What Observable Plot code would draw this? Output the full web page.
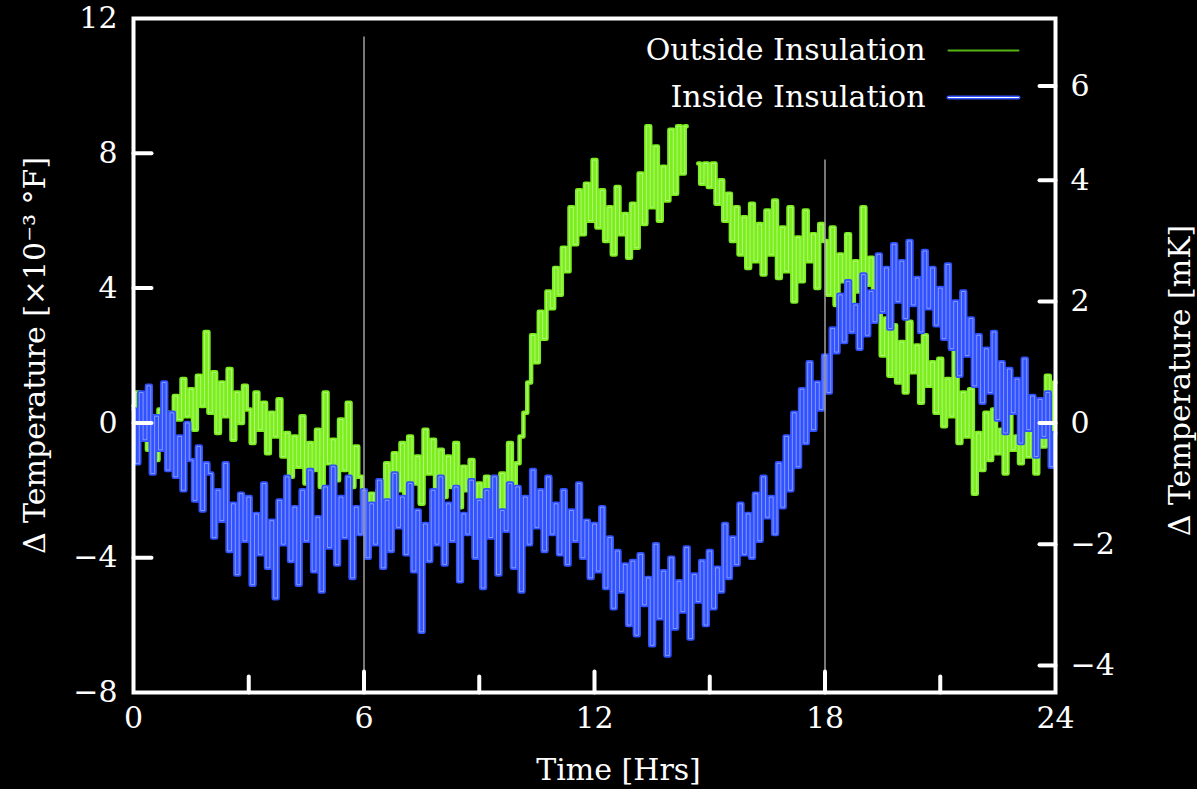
<!DOCTYPE html>
<html><head><meta charset="utf-8">
<script src="https://cdn.jsdelivr.net/npm/d3@7"></script>
<script src="https://cdn.jsdelivr.net/npm/@observablehq/plot@0.6"></script>
<style>html,body{margin:0;padding:0;background:#000;}</style>
</head><body><div id="chart"></div>
<script>
// Outside insulation, ΔT [×10^-3 °F], sampled every 0.1 h from 0 to 24 h
const outside = [
  0.5, 0.9, -0.3, 0.6, -0.8, 0.2, -1.1, 0.4, -0.6, 0.3,
  -0.4, 0.8, 0.1, 1.3, 0.2, 1.0, -0.2, 1.4, 0.5, 2.7,
  0.3, 1.5, -0.3, 1.2, 0.2, 1.6, -0.5, 0.9, 0.0, 1.1,
  0.4, -0.6, 0.9, -0.2, 0.6, -0.9, 0.3, -0.4, 0.7, -1.0,
  -0.3, -1.6, -0.4, -1.3, 0.2, -1.8, -0.6, -1.4, -0.2, -1.9,
  0.9, -1.2, -0.5, -1.7, 0.1, -1.4, 0.6, -1.9, -0.7, -1.6,
  -2.3, -3.0, -2.1, -3.4, -2.0, -2.8, -1.2, -2.4, -0.9, -2.0,
  -0.6, -2.2, -0.4, -1.8, -1.0, -2.4, -0.2, -1.5, -0.5, -2.1,
  -0.8, -2.2, -1.0, -1.9, -0.6, -2.5, -1.3, -2.0, -1.1, -2.6,
  -1.8, -2.9, -1.6, -3.1, -2.0, -2.7, -1.5, -2.9, -0.6, -2.2,
  -1.2, -0.4, 0.3, 1.2, 2.6, 1.8, 3.3, 2.5, 3.9, 3.4,
  4.6, 3.8, 5.2, 4.5, 6.4, 5.3, 6.9, 5.6, 7.1, 6.0,
  7.8, 5.8, 6.9, 5.4, 6.4, 5.0, 7.0, 5.6, 6.2, 4.9,
  6.5, 5.2, 7.4, 5.9, 8.8, 6.4, 8.2, 6.0, 7.6, 6.6,
  8.7, 6.8, 8.8, 7.4, 8.8, null, null, 7.7, 7.1, 7.7,
  7.0, 7.7, 6.5, 7.2, 6.0, 6.8, 5.4, 6.4, 5.0, 6.1,
  4.6, 6.5, 4.8, 5.9, 4.4, 6.3, 5.0, 6.6, 4.3, 5.8,
  4.5, 6.4, 3.6, 5.5, 4.2, 6.3, 4.8, 5.6, 4.0, 5.9,
  5.4, 3.8, 5.8, 3.5, 5.0, 4.2, 5.6, 3.4, 4.8, 3.9,
  6.4, 4.1, 4.9, 3.2, 3.8, 2.0, 3.1, 1.4, 2.9, 1.2,
  2.4, 0.9, 3.0, 1.5, 2.3, 0.6, 2.6, 1.1, 1.8, 0.3,
  1.9, -0.1, 1.3, 0.2, 2.2, -0.6, 0.9, -0.4, 1.0, -2.1,
  -0.3, -1.4, 0.3, -1.1, 0.4, -0.9, -0.2, -1.5, 0.6, -0.8,
  -0.4, -1.2, 0.2, -1.0, -0.3, -1.5, 0.5, -0.7, 1.4, -0.4,
  1.2
];
// Inside insulation, ΔT [×10^-3 °F], sampled every 0.1 h from 0 to 24 h
const inside = [
  0.4, -1.2, 0.9, -0.5, 1.1, -1.5, 0.2, -0.8, 1.2, -1.4,
  0.3, -1.6, -0.4, -2.0, 0.0, -1.1, -2.3, -0.7, -2.6, -1.2,
  -1.5, -3.4, -2.0, -2.9, -1.2, -3.8, -2.4, -4.5, -2.1, -3.5,
  -2.2, -4.8, -2.7, -3.9, -1.8, -4.3, -2.9, -5.2, -2.3, -3.6,
  -1.6, -4.1, -2.5, -4.8, -2.0, -3.5, -1.4, -4.4, -2.8, -5.0,
  -1.9, -3.7, -1.3, -4.2, -2.2, -3.4, -1.6, -4.6, -2.5, -3.3,
  -2.0, -4.0, -2.4, -3.6, -1.7, -4.3, -2.3, -3.8, -1.5, -3.1,
  -2.2, -3.9, -1.8, -4.4, -2.6, -6.2, -3.0, -4.1, -2.0, -3.6,
  -1.6, -4.2, -2.4, -3.5, -1.9, -4.7, -2.7, -3.3, -1.7, -4.0,
  -2.3, -4.9, -2.0, -3.4, -1.6, -4.5, -2.6, -3.2, -1.8, -4.3,
  -1.9, -5.0, -2.2, -3.6, -1.4, -3.1, -2.0, -3.8, -1.6, -3.3,
  -2.4, -3.9, -2.0, -4.2, -2.6, -3.5, -1.8, -4.0, -2.9, -4.6,
  -3.0, -4.4, -2.5, -4.9, -3.4, -5.5, -3.8, -5.0, -4.2, -6.0,
  -4.1, -6.3, -3.9, -5.4, -4.6, -6.6, -3.6, -5.8, -4.4, -6.9,
  -4.0, -6.1, -4.7, -5.6, -3.7, -6.4, -4.5, -5.3, -4.1, -6.0,
  -3.8, -5.5, -4.3, -5.0, -3.0, -4.6, -3.4, -4.2, -2.4, -3.9,
  -2.7, -4.0, -2.1, -3.5, -1.6, -2.8, -2.2, -3.3, -1.2, -2.5,
  -0.4, -2.0, 0.3, -1.3, 1.0, -0.6, 1.8, -0.2, 1.2, 0.4,
  2.0, 0.9, 2.8, 2.1, 3.8, 2.4, 4.2, 2.7, 3.5, 2.2,
  4.4, 2.6, 3.9, 3.0, 5.0, 3.3, 4.6, 2.8, 5.3, 3.6,
  4.8, 3.1, 5.4, 3.5, 4.3, 2.7, 5.1, 3.4, 4.6, 2.9,
  4.0, 2.5, 4.7, 2.2, 3.6, 1.4, 3.9, 2.0, 3.1, 1.1,
  2.6, 0.6, 2.2, 0.9, 2.7, 0.1, 1.8, -0.3, 1.6, 0.3,
  1.3, -0.6, 1.9, -0.2, 0.8, -1.0, 0.7, -0.4, 0.9, -1.3,
  -0.3
];
const sampleStep = 0.1; // hours between samples

const xLabelTicks = [0, 6, 12, 18, 24];
const xMajorTicks = [6, 12, 18];
const xMinorTicks = [3, 9, 15, 21];
const leftLabelTicks = [-8, -4, 0, 4, 8, 12];
const leftMarkTicks = [-4, 0, 4, 8];
// right axis (mK) tick positions in left-axis units, and their labels
const rightTickPos = [-7.2, -3.6, 0, 3.6, 7.2, 10];
const rightTickText = ["−4", "−2", "0", "2", "4", "6"];
const markerHours = [6, 18];
const markerTops = [11.45, 7.8];
const seriesNames = ["Outside Insulation", "Inside Insulation"];

const GREEN = "#7bee1c", GREEN_HI = "#e2ffcc", GREEN_LEG = "#56b414";
const BLUE = "#3152ff", BLUE_HI = "#d0d4ff";

const toRows = arr => arr.map((v, i) => ({t: i * sampleStep, v}));
const outRows = toRows(outside);
const inRows = toRows(inside);
const markers = markerHours.map((x, i) => ({x, top: markerTops[i]}));
const rightMap = new Map(rightTickPos.map((p, i) => [p, rightTickText[i]]));
const seg = {draw(ctx, l) { ctx.moveTo(0, 0); ctx.lineTo(0, -l); }};
const FONT = "DejaVu Serif";
const txt = {fill: "#fff", fontSize: 30, fontFamily: FONT};

const chart = Plot.plot({
  width: 1197,
  height: 789,
  marginLeft: 133,
  marginRight: 142,
  marginTop: 18,
  marginBottom: 97,
  style: {background: "#000", color: "#fff", fontFamily: FONT, fontSize: "30px"},
  x: {domain: [0, 24]},
  y: {domain: [-8, 12]},
  marks: [
    Plot.line(outRows, {x: "t", y: "v", curve: "step", stroke: GREEN, strokeWidth: 4.5}),
    Plot.line(outRows, {x: "t", y: "v", curve: "step", stroke: GREEN_HI, strokeWidth: 0.9, strokeOpacity: 0.6}),
    Plot.line(inRows, {x: "t", y: "v", curve: "step", stroke: BLUE, strokeWidth: 4.5}),
    Plot.line(inRows, {x: "t", y: "v", curve: "step", stroke: BLUE_HI, strokeWidth: 0.9, strokeOpacity: 0.6}),
    Plot.ruleX(markers, {x: "x", y1: -8, y2: "top", stroke: "#a0a0a0", strokeWidth: 1.5}),
    Plot.frame({stroke: "#fff", strokeWidth: 4}),
    // inward tick marks
    Plot.vector(leftMarkTicks, {x: 0, y: d => d, rotate: 90, length: 18, anchor: "start", shape: seg, stroke: "#fff", strokeWidth: 4}),
    Plot.vector(rightTickPos, {x: 24, y: d => d, rotate: -90, length: 16, anchor: "start", shape: seg, stroke: "#fff", strokeWidth: 4}),
    Plot.vector(xMinorTicks, {x: d => d, y: -8, rotate: 0, length: 16, anchor: "start", shape: seg, stroke: "#fff", strokeWidth: 4}),
    Plot.vector(xMajorTicks, {x: d => d, y: -8, rotate: 0, length: 21, anchor: "start", shape: seg, stroke: "#fff", strokeWidth: 4}),
    // tick labels
    Plot.axisX(xLabelTicks, {anchor: "bottom", tickSize: 0, tickPadding: 14, label: null, fontSize: 30, fontFamily: FONT}),
    Plot.axisY(leftLabelTicks, {anchor: "left", tickSize: 0, tickPadding: 16, label: null, fontSize: 30, fontFamily: FONT}),
    Plot.axisY(rightTickPos, {anchor: "right", tickSize: 0, tickPadding: 15, label: null, tickFormat: d => rightMap.get(d), fontSize: 30, fontFamily: FONT}),
    // axis titles
    Plot.text(["Time [Hrs]"], {...txt, frameAnchor: "bottom", textAnchor: "middle", lineAnchor: "middle", dx: 24, dy: 78}),
    Plot.text(["Δ Temperature [×10⁻³ °F]"], {...txt, frameAnchor: "left", textAnchor: "middle", lineAnchor: "middle", dx: -98, rotate: -90}),
    Plot.text(["Δ Temperature [mK]"], {...txt, frameAnchor: "right", textAnchor: "middle", lineAnchor: "middle", dx: 125, dy: 25, rotate: -90}),
    // legend
    Plot.text([seriesNames[0]], {...txt, frameAnchor: "top-right", textAnchor: "end", lineAnchor: "middle", dx: -130, dy: 32}),
    Plot.text([seriesNames[1]], {...txt, frameAnchor: "top-right", textAnchor: "end", lineAnchor: "middle", dx: -130, dy: 79}),
    Plot.vector([seriesNames[0]], {frameAnchor: "top-right", dx: -107, dy: 32, rotate: 90, length: 70, anchor: "start", shape: seg, stroke: GREEN_LEG, strokeWidth: 2}),
    Plot.vector([seriesNames[1]], {frameAnchor: "top-right", dx: -107, dy: 79, rotate: 90, length: 70, anchor: "start", shape: seg, stroke: BLUE, strokeWidth: 4}),
    Plot.vector([seriesNames[1]], {frameAnchor: "top-right", dx: -107, dy: 79, rotate: 90, length: 70, anchor: "start", shape: seg, stroke: "#fff", strokeWidth: 1.2})
  ]
});
document.getElementById("chart").appendChild(chart);
</script>
</body></html>
